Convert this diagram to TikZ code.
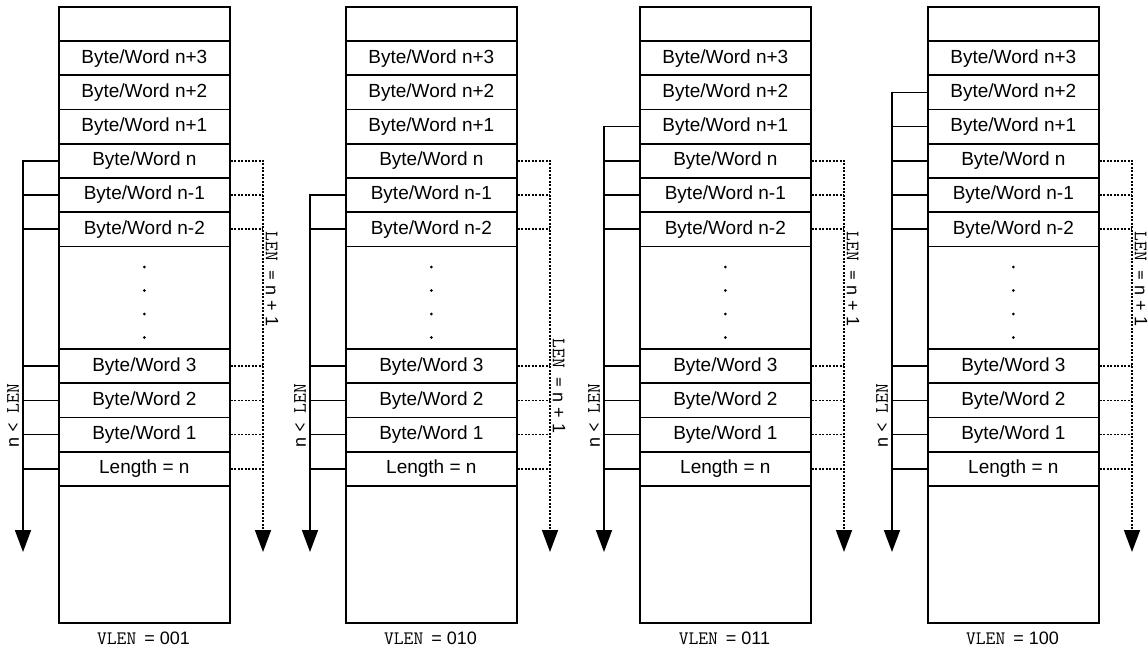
\documentclass[tikz,border=0pt]{standalone}
\usepackage{fontspec}
\setmainfont{Liberation Sans}
\setsansfont{Liberation Sans}
\usetikzlibrary{arrows.meta}
\newcommand\bwtxt{Byte/Word}
\begin{document}
\begin{tikzpicture}[x=1pt,y=1pt,
  cell/.style={draw, line width=1.7pt, minimum width=171pt, minimum height=34.22pt,
    inner sep=0pt, anchor=north west, font=\fontsize{19}{22}\selectfont},
  solidline/.style={line width=1.7pt},
  dotline/.style={line width=1.6pt, dash pattern=on 2pt off 1.5pt},
  tipped/.style={-{Triangle[width=16pt,length=22pt]}},
  lbl/.style={inner sep=0pt, font=\fontsize{18}{20}\selectfont}]
\useasboundingbox (0,0) rectangle (1148,-653);
\fill[white] (0,0) rectangle (1148,-653);
\foreach \i/\L/\s/\ry/\v in {1/58/4/279/001, 2/345/5/386/010, 3/639/3/279/011, 4/927/2/279/100}{
  \pgfmathsetmacro\lx{\L-35}
  \pgfmathsetmacro\dx{\L+205}
  \pgfmathsetmacro\cx{\L+85.5}
  \foreach \k/\t in {0/{}, 1/{\bwtxt{} n+3}, 2/{\bwtxt{} n+2}, 3/{\bwtxt{} n+1},
      4/{\bwtxt{} n}, 5/{\bwtxt{} n-1}, 6/{\bwtxt{} n-2}, 10/{\bwtxt{} 3},
      11/{\bwtxt{} 2}, 12/{\bwtxt{} 1}, 13/{Length = n}}{
    \node[cell] (c\i r\k) at (\L,{-6-34.22*\k}) {\t};
  }
  \node[cell, minimum height=102.66pt] (c\i r7) at (\L,{-6-34.22*7}) {};
  \node[cell, minimum height=136.88pt] (c\i r14) at (\L,{-6-34.22*14}) {};
  \foreach \d in {21.5,45,68.5,92}{
    \fill ([yshift=-\d pt]c\i r7.north) circle (1.5);
  }
  % left solid connector
  \coordinate (c\i lt) at (\lx,{-6-34.22*(\s+0.5)});
  \coordinate (c\i lb) at (\lx,-552);
  \draw[solidline,tipped] (c\i lt) -- (c\i lb);
  \foreach \k in {2,3,4,5,6,10,11,12,13}{
    \ifnum\k<\s\else
      \draw[solidline] (c\i r\k.west) -- (c\i r\k.west -| c\i lt);
    \fi
  }
  % right dotted connector
  \coordinate (c\i dt) at (\dx,{-6-34.22*4.5});
  \coordinate (c\i db) at (\dx,-552);
  \draw[dotline,tipped] (c\i dt) -- (c\i db);
  \foreach \k in {4,5,6,10,11,12,13}{
    \draw[dotline] (c\i r\k.east) -- (c\i r\k.east -| c\i dt);
  }
  % labels
  \node[lbl, rotate=90] (c\i nl) at (\lx-10,-416)
    {{\sffamily n} {\fontsize{19}{20}\ttfamily< LEN}};
  \node[lbl, rotate=-90] (c\i ll) at (\dx+9,-\ry)
    {{\fontsize{19}{20}\ttfamily LEN =} n + 1};
  \node[lbl] (c\i cap) at (\cx,-638) {{\fontsize{19}{20}\ttfamily VLEN} \,= \v};
}
\end{tikzpicture}
\end{document}
